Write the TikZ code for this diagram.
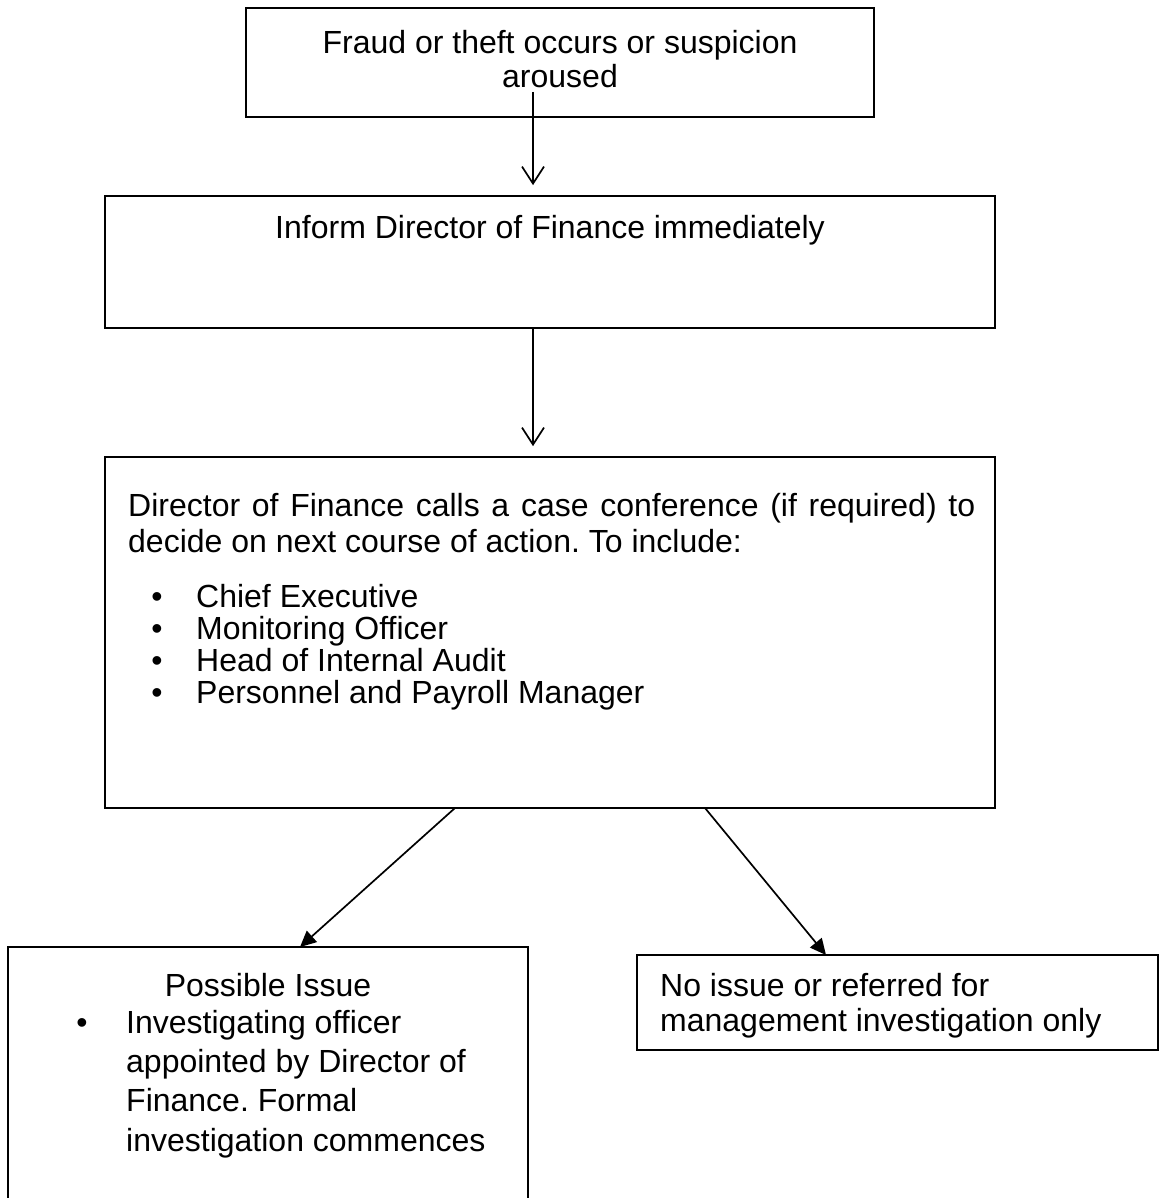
\documentclass[tikz,border=0pt]{standalone}
\usepackage{fontspec}
\setmainfont{Liberation Sans}
\frenchspacing
\usetikzlibrary{arrows.meta}
\tikzset{
  box/.style={draw, line width=1.7pt, rectangle, inner sep=0pt},
  txt/.style={inner sep=0pt, font=\fontsize{32pt}{38pt}\selectfont\frenchspacing},
  openarrow/.style={line width=1.7pt, -{Straight Barb[length=17pt,width=22pt,line width=1.7pt]}},
  filledarrow/.style={line width=1.7pt, -{Triangle[length=16pt,width=15pt]}},
}
\begin{document}
\begin{tikzpicture}[x=1pt,y=-1pt]
\useasboundingbox (0,0) rectangle (1160,1198);
\clip (0,0) rectangle (1160,1198);
% boxes
\node[box, minimum width=628pt, minimum height=109pt] (b1) at (560,62.5) {};
\node[box, minimum width=890pt, minimum height=132pt] (b2) at (550,262) {};
\node[box, minimum width=890pt, minimum height=351pt] (b3) at (550,632.5) {};
\node[box, minimum width=520pt, minimum height=270pt] (b4) at (268,1082) {};
\node[box, minimum width=521pt, minimum height=95pt] (b5) at (897.5,1002.5) {};
% texts
\node[txt, anchor=mid] (t1a) at (560,51) {Fraud or theft occurs or suspicion};
\node[txt, anchor=mid] (t1b) at (560,85) {aroused};
\node[txt, anchor=mid] (t2) at (550,236) {Inform Director of Finance immediately};
\node[txt, anchor=mid west] (t3a) at (128,514) {\makebox[847pt][s]{Director of Finance calls a case conference (if required) to}};
\node[txt, anchor=mid west] (t3b) at (128,550) {decide on next course of action. To include:};
\foreach \y/\t [count=\i] in {605/Chief Executive, 637/Monitoring Officer, 669/Head of Internal Audit, 701/Personnel and Payroll Manager}{
  \node[txt, anchor=mid] (bu\i) at (157,\y) {\textbullet};
  \node[txt, anchor=mid west] (li\i) at (196,\y) {\t};
}
\node[txt, anchor=mid] (t4) at (268,994) {Possible Issue};
\node[txt, anchor=mid] (bu5) at (82,1031) {\textbullet};
\foreach \y/\t [count=\i] in {1031/Investigating officer, 1070/appointed by Director of, 1109/Finance. Formal, 1149/investigation commences}{
  \node[txt, anchor=mid west] (p\i) at (126,\y) {\t};
}
\node[txt, anchor=mid west] (t5a) at (660,994) {No issue or referred for};
\node[txt, anchor=mid west] (t5b) at (660,1029) {management investigation only};
% connectors
\coordinate (a1) at (533,92);
\draw[openarrow, shorten >=10pt] (a1) -- (a1 |- b2.north);
\draw[openarrow, shorten >=10pt] (b2.south -| a1) -- (a1 |- b3.north);
\coordinate (s3) at (455,808);
\coordinate (e3) at (300,947);
\draw[filledarrow] (s3) -- (e3);
\coordinate (s4) at (705,808);
\coordinate (e4) at (826,955);
\draw[filledarrow] (s4) -- (e4);
\end{tikzpicture}
\end{document}
